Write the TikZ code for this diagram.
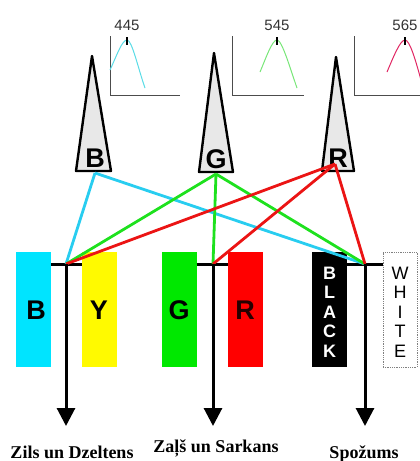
\documentclass[tikz,border=0pt]{standalone}
\usepackage{fontspec}
\setmainfont{Liberation Serif}
\newfontfamily\hsans{Liberation Sans}
\usetikzlibrary{arrows.meta}
\definecolor{lcyan}{RGB}{40,205,240}
\definecolor{lgreen}{RGB}{30,225,30}
\definecolor{lred}{RGB}{235,20,20}
\definecolor{bcyan}{RGB}{0,228,255}
\definecolor{byellow}{RGB}{255,250,0}
\definecolor{bgreen}{RGB}{0,232,0}
\definecolor{bred}{RGB}{255,0,0}
\definecolor{pcyan}{RGB}{90,220,230}
\definecolor{pgreen}{RGB}{120,230,120}
\definecolor{pred}{RGB}{225,40,100}
\begin{document}
\begin{tikzpicture}[x=1pt,y=-1pt,
  cone/.style={draw=black,line width=2.4pt,fill=gray!18,line join=round},
  conelab/.style={font=\hsans\bfseries\fontsize{27}{27}\selectfont,inner sep=0pt},
  bar/.style={draw=none,minimum width=35pt,minimum height=115pt,inner sep=0pt},
  barlab/.style={font=\hsans\bfseries\fontsize{27}{27}\selectfont,inner sep=0pt},
  vlab/.style={font=\hsans\fontsize{18}{19.5}\selectfont,align=center,inner sep=0pt},
  axisline/.style={draw=gray!60!black,line width=0.9pt},
  curve/.style={line width=1pt},
  num/.style={font=\hsans\fontsize{15}{15}\selectfont,text=black!80,inner sep=0pt},
  conn/.style={line width=2.8pt},
  blk/.style={draw=black,line width=3pt},
  arr/.style={draw=black,line width=3pt,-{Triangle[width=18pt,length=18pt]}},
  caplabel/.style={font=\bfseries\fontsize{18}{18}\selectfont,anchor=base,inner sep=0pt}]
\useasboundingbox (0,0) rectangle (420,461);

% spectral plots
\draw[axisline] (110,36) -- (110,95) -- (180,95);
\draw[axisline] (232,36) -- (232,95) -- (304,95);
\draw[axisline] (354,36) -- (354,95) -- (420,95);
\draw[curve,pcyan] (110,70) .. controls (117,55) and (122,40) .. (127,40) .. controls (132,40) and (138,68) .. (145,88);
\draw[curve,pgreen] (260,72) .. controls (266,58) and (272,40) .. (277,40) .. controls (282,40) and (290,68) .. (297,88);
\draw[curve,pred] (387,72) .. controls (393,58) and (400,40) .. (405,40) .. controls (410,40) and (416,62) .. (421,80);
\draw[line width=1.2pt] (127,37) -- (127,45);
\draw[line width=1.2pt] (277,37) -- (277,45);
\draw[line width=1.2pt] (405,37) -- (405,45);
\node[num] (n1) at (127,25) {445};
\node[num] (n2) at (277,25) {545};
\node[num] (n3) at (405,25) {565};

% cones
\draw[cone] (92,56) -- (111,171) -- (76,171) -- cycle;
\draw[cone] (214,53) -- (233,172) -- (199,172) -- cycle;
\draw[cone] (336,57) -- (354,171) -- (322,171) -- cycle;
\node[conelab] (cB) at (95,158) {B};
\node[conelab] (cG) at (216,159) {G};
\node[conelab] (cR) at (338,158) {R};
\coordinate (oB) at (95,173);
\coordinate (oG) at (216,174);
\coordinate (oR) at (335,164);

% bars
\node[bar,fill=bcyan] (bB) at (33.5,309.5) {};
\node[bar,fill=byellow] (bY) at (99.5,309.5) {};
\node[bar,fill=bgreen] (bG) at (179,309.5) {};
\node[bar,fill=bred] (bR) at (245.5,309.5) {};
\node[bar,fill=black] (bK) at (329.5,309.5) {};
\node[bar,fill=white,draw=gray,densely dotted,line width=0.8pt,minimum width=34pt] (bW) at (400,309.5) {};
\node[barlab] (tB) at (36,310) {B};
\node[barlab] (tY) at (99,310) {Y};
\node[barlab] (tG) at (179,310) {G};
\node[barlab,text=black!85!red] (tR) at (245,310) {R};
\node[vlab,font=\hsans\bfseries\fontsize{18}{19.5}\selectfont,text=white] (tK) at (329.5,312) {B\\L\\A\\C\\K};
\node[vlab] (tW) at (400,312) {W\\H\\I\\T\\E};

% junctions
\coordinate (j1) at (66,264);
\coordinate (j2) at (213,264);
\coordinate (j3) at (365,264);
\coordinate (a1) at (66,426);
\coordinate (a2) at (213,426);
\coordinate (a3) at (365,426);

\draw[blk] (bB.east |- j1) -- (bY.west |- j1);
\draw[blk] (bG.east |- j2) -- (bR.west |- j2);
\draw[blk] (bK.east |- j3) -- (bW.west |- j3);

% connectors
\draw[conn,lcyan] (oB) -- (j1);
\draw[conn,lcyan] (oB) -- (j3);
\draw[conn,lgreen] (oG) -- (j1);
\draw[conn,lgreen] (oG) -- (j2);
\draw[conn,lgreen] (oG) -- (j3);
\draw[conn,lred] (oR) -- (j1);
\draw[conn,lred] (oR) -- (j2);
\draw[conn,lred] (oR) -- (j3);

% outputs
\draw[arr] (j1) -- (a1);
\draw[arr] (j2) -- (a2);
\draw[arr] (j3) -- (a3);

\node[caplabel] (l1) at (72,458) {Zils un Dzeltens};
\node[caplabel] (l2) at (216,452) {Zaļš un Sarkans};
\node[caplabel] (l3) at (364,458) {Spožums};
\end{tikzpicture}
\end{document}
